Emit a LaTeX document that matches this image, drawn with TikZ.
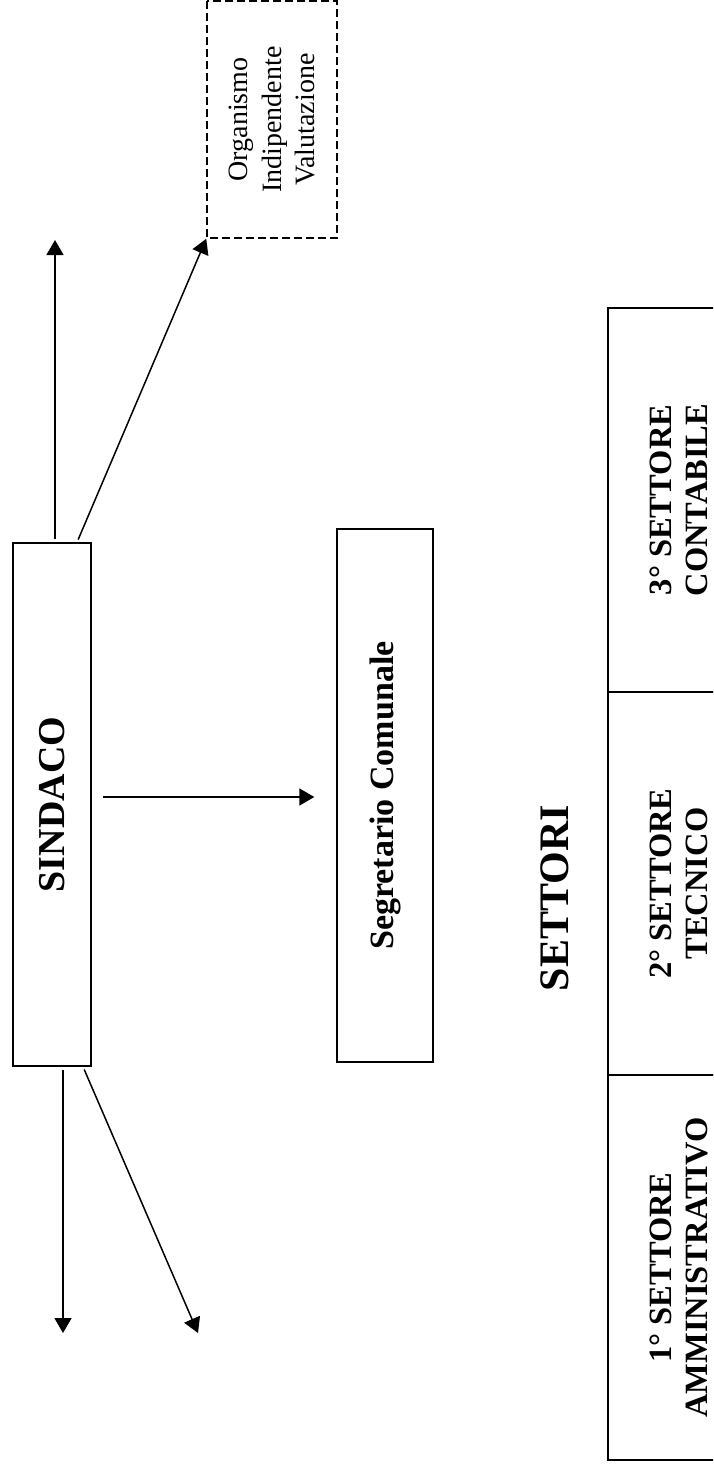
\documentclass[tikz,border=0pt]{standalone}
\usepackage{fontspec}
\setmainfont{Liberation Serif}
\usetikzlibrary{arrows.meta}
\usetikzlibrary{positioning}

\tikzset{
  box/.style={draw, rectangle, line width=1.4pt, rotate=90, inner sep=0pt},
  dashbox/.style={draw, rectangle, line width=1.5pt, dash pattern=on 8pt off 4pt, rotate=90, align=center, inner sep=0pt},
  secbox/.style={draw, rectangle, line width=2.6pt, rotate=90, align=center, inner sep=0pt, font=\bfseries\fontsize{32.5}{36.5}\selectfont},
  arr/.style={-{Triangle[length=15pt,width=17pt]}, line width=1.5pt},
}

\begin{document}
\begin{tikzpicture}[x=1pt, y=-1pt]
    \useasboundingbox (0,0) rectangle (713,1468);
    \clip (0,0) rectangle (713,1468);

    \node (oiv) [dashbox, minimum width=237pt, minimum height=130pt,
      font=\fontsize{28}{33.5}\selectfont] at (272,119.5)
      {Organismo\\Indipendente\\Valutazione};

    \node (sindaco) [box, minimum width=523pt, minimum height=78pt,
      font=\bfseries\fontsize{38}{40}\selectfont] at (52,804.5) {SINDACO};

    \node (segr) [box, minimum width=533pt, minimum height=96pt,
      font=\bfseries\fontsize{34}{36}\selectfont] at (385,795.5) {Segretario Comunale};

    \node (settori) [rotate=90, font=\bfseries\fontsize{42}{44}\selectfont] at (555,898) {SETTORI};

    % settori
    \node (sett3) [secbox, minimum width=384pt, minimum height=142pt] at (679,500) {3° SETTORE\\CONTABILE};
    \node (sett2) [secbox, minimum width=383pt, minimum height=142pt] at (679,883.5) {2° SETTORE\\TECNICO};
    \node (sett1) [secbox, minimum width=385pt, minimum height=142pt] at (679,1267.5) {1° SETTORE\\AMMINISTRATIVO};

    % free arrow ends
    \coordinate (up1) at (55,240);
    \coordinate (down1) at (63,1333);
    \coordinate (down2) at (198,1333);

    \draw[arr, shorten <=3pt] (sindaco.east -| up1) -- (up1);
    \draw[arr, shorten <=3pt] ([xshift=25pt]sindaco.east) -- (oiv.north west);
    \draw[arr, shorten <=11pt, shorten >=22pt] ([yshift=7.5pt]sindaco.south) -- ([yshift=-1.5pt]segr.north);
    \draw[arr, shorten <=3pt] (sindaco.west -| down1) -- (down1);
    \draw[arr, shorten <=3pt] ([xshift=31pt]sindaco.west) -- (down2);
\end{tikzpicture}
\end{document}
